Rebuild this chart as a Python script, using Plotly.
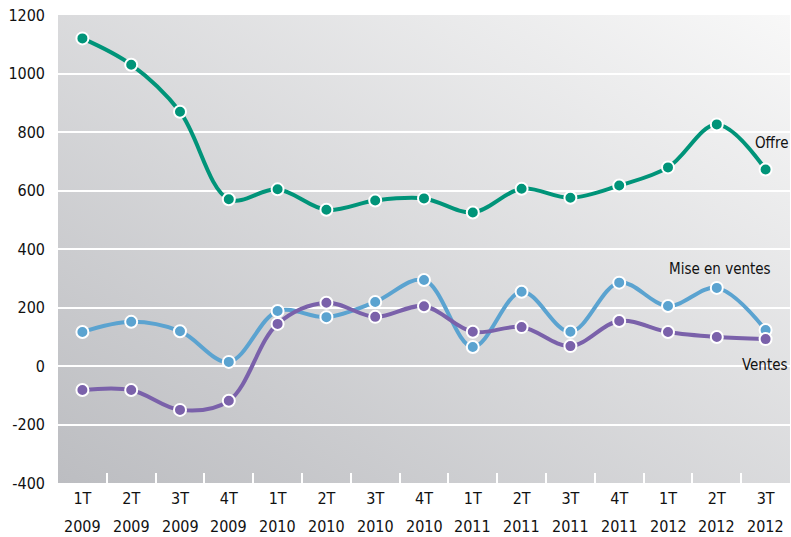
import base64
import plotly.graph_objects as go

quarters = ["1T", "2T", "3T", "4T", "1T", "2T", "3T", "4T", "1T", "2T", "3T", "4T", "1T", "2T", "3T"]
years = ["2009"] * 4 + ["2010"] * 4 + ["2011"] * 4 + ["2012"] * 3
periods = [q + " " + y for q, y in zip(quarters, years)]

offre = [1120, 1030, 869, 570, 604, 534, 566, 573, 525, 606, 575, 617, 679, 826, 672]
mise_en_ventes = [116, 151, 119, 14, 188, 167, 219, 294, 65, 254, 117, 285, 205, 267, 123]
ventes = [-82, -82, -150, -119, 144, 216, 168, 204, 117, 133, 68, 154, 116, 99, 92]

yticks = [-400, -200, 0, 200, 400, 600, 800, 1000, 1200]

font_name = "DejaVu Sans Condensed, Roboto, sans-serif"

# gradient background for the plot area
svg = ('<svg xmlns="http://www.w3.org/2000/svg" width="100" height="100" preserveAspectRatio="none">'
       '<defs><linearGradient id="g" x1="0" y1="1" x2="1" y2="0">'
       '<stop offset="0" stop-color="#bcbdc1"/><stop offset="1" stop-color="#f8f8f8"/>'
       '</linearGradient></defs><rect width="100" height="100" fill="url(#g)"/></svg>')
bg_src = "data:image/svg+xml;base64," + base64.b64encode(svg.encode()).decode()

fig = go.Figure()

series = [
    ("Offre", offre, "#009479"),
    ("Mise en ventes", mise_en_ventes, "#5ba3d0"),
    ("Ventes", ventes, "#7a61aa"),
]
for name, vals, color in series:
    fig.add_trace(go.Scatter(
        x=periods, y=vals, name=name, mode="lines+markers",
        line=dict(color=color, width=4, shape="spline", smoothing=1),
        marker=dict(size=12, color=color, line=dict(color="white", width=2)),
        showlegend=False,
    ))

# series labels
lab_font = dict(family=font_name, size=15, color="#111")
fig.add_annotation(x=1, xref="paper", y=763, yref="y", text="Offre", showarrow=False,
                   xanchor="right", font=lab_font)
fig.add_annotation(x=0.977, xref="paper", y=332, yref="y", text="Mise en ventes", showarrow=False,
                   xanchor="right", font=lab_font)
fig.add_annotation(x=1, xref="paper", y=3, yref="y", text="Ventes", showarrow=False,
                   xanchor="right", font=lab_font)

# year row under the quarter labels
for p, y in zip(periods, years):
    fig.add_annotation(x=p, xref="x", y=0, yref="paper", yanchor="middle", yshift=-43,
                       text=y, showarrow=False,
                       font=dict(family=font_name, size=16, color="#111"))

fig.update_layout(
    width=791, height=537,
    margin=dict(l=58, r=1, t=15, b=54),
    paper_bgcolor="white",
    plot_bgcolor="rgba(0,0,0,0)",
    font=dict(family=font_name, size=16, color="#111"),
    images=[dict(source=bg_src, xref="paper", yref="paper", x=0, y=1, sizex=1, sizey=1,
                 sizing="stretch", layer="below", xanchor="left", yanchor="top")],
)
fig.update_xaxes(
    type="category", categoryorder="array", categoryarray=periods,
    tickvals=periods, ticktext=quarters,
    range=[-0.5, len(periods) - 0.5],
    ticks="inside", tickson="boundaries", ticklen=10, tickwidth=2, tickcolor="white",
    showgrid=False, showline=False, zeroline=False, ticklabelstandoff=4, automargin=False,
)
fig.update_yaxes(
    range=[-400, 1200], tickvals=yticks, ticktext=[str(v) for v in yticks],
    showgrid=True, gridcolor="white", gridwidth=1.5,
    zeroline=False, showline=False, ticks="", ticklabelstandoff=12,
    automargin=False, ticklabeloverflow="allow",
)

# drop the default body margin so the figure fills the window
fig.write_html("out.html", config={"displayModeBar": False},
               post_script="document.body.style.margin='0';")
